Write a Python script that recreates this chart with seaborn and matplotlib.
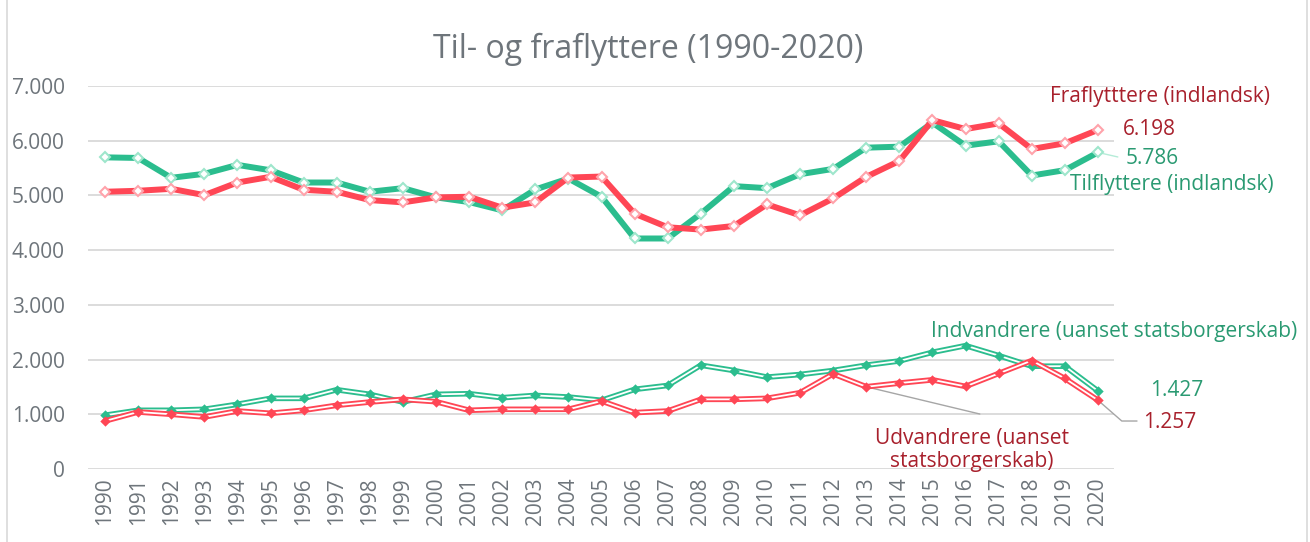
import matplotlib
matplotlib.use("Agg")
import matplotlib.pyplot as plt
import seaborn as sns
import pandas as pd
import numpy as np

years = list(range(1990, 2021))
fraflyttere = [5067, 5085, 5121, 5005, 5236, 5340, 5103, 5067, 4915, 4873, 4964, 4976,
               4776, 4873, 5327, 5345, 4667, 4418, 4376, 4442, 4836, 4636, 4945, 5340,
               5630, 6376, 6213, 6316, 5849, 5953, 6198]
tilflyttere = [5696, 5685, 5322, 5395, 5558, 5460, 5236, 5236, 5067, 5133, 4964, 4879,
               4727, 5109, 5309, 4976, 4213, 4213, 4667, 5170, 5133, 5388, 5485, 5873,
               5891, 6330, 5909, 5989, 5364, 5462, 5786]
indvandrere = [982, 1073, 1073, 1091, 1182, 1291, 1291, 1449, 1364, 1224, 1364, 1376,
               1303, 1345, 1315, 1255, 1455, 1527, 1897, 1800, 1679, 1727, 1800, 1897,
               1975, 2133, 2255, 2073, 1879, 1879, 1427]
udvandrere = [878, 1042, 1000, 951, 1060, 1018, 1073, 1164, 1224, 1273, 1230, 1073,
              1091, 1091, 1091, 1242, 1030, 1060, 1273, 1273, 1291, 1394, 1739, 1503,
              1570, 1630, 1509, 1746, 1982, 1655, 1257]
ytick_vals = [0, 1000, 2000, 3000, 4000, 5000, 6000, 7000]
ytick_labels = ["0", "1.000", "2.000", "3.000", "4.000", "5.000", "6.000", "7.000"]
title = "Til- og fraflyttere (1990-2020)"

GREEN = "#2bbd8e"
RED = "#ff4655"
GREEN_TXT = "#2a9a72"
RED_TXT = "#a8202c"
GRAY_TXT = "#6e757b"
FONT = "Open Sans"

sns.set_theme(style="white")
plt.rcParams["font.family"] = [FONT, "DejaVu Sans"]

df = pd.DataFrame({"year": years, "fra": fraflyttere, "til": tilflyttere,
                   "ind": indvandrere, "ud": udvandrere})

fig = plt.figure(figsize=(13.1, 5.42), dpi=100)
ax = fig.add_axes([88.5 / 1310, 1 - 469 / 542, (1114.5 - 88.5) / 1310, (469 - 86) / 542])

# top series: thick lines with pale hollow diamonds
sns.lineplot(data=df, x="year", y="til", ax=ax, color=GREEN, lw=4.3, zorder=3,
             marker="D", markersize=4.8, markerfacecolor="white",
             markeredgecolor="#9ee6cc", markeredgewidth=1.5)
sns.lineplot(data=df, x="year", y="fra", ax=ax, color=RED, lw=4.3, zorder=4,
             marker="D", markersize=4.8, markerfacecolor="white",
             markeredgecolor="#ffa3ab", markeredgewidth=1.5)

# bottom series: double (compound) lines with filled diamonds
for col, c, z in [("ind", GREEN, 5), ("ud", RED, 7)]:
    sns.lineplot(data=df, x="year", y=col, ax=ax, color=c, lw=4.0, zorder=z)
    sns.lineplot(data=df, x="year", y=col, ax=ax, color="white", lw=1.3, zorder=z + 0.1)
    sns.scatterplot(data=df, x="year", y=col, ax=ax, color=c, marker="D", s=28,
                    linewidth=0, zorder=z + 0.2)

ax.set_xlim(1989.5, 2020.5)
ax.set_ylim(0, 7000)
ax.set_yticks(ytick_vals)
ax.set_yticklabels(ytick_labels)
ax.set_xticks(years)
ax.set_xticklabels([str(y) for y in years], rotation=90)
ax.grid(axis="y", color="#d9d9d9", lw=1.3, zorder=0)
ax.set_axisbelow(True)
for s in ax.spines.values():
    s.set_visible(False)
ax.tick_params(axis="y", length=0, pad=17, labelsize=15, labelcolor=GRAY_TXT)
ax.tick_params(axis="x", length=0, pad=6, labelsize=15, labelcolor=GRAY_TXT)
ax.set_xlabel("")
ax.set_ylabel("")

fig.text(0.495, 0.908, title, ha="center", va="center", fontsize=23, color=GRAY_TXT)

# leader lines
ax.plot([2013, 2016.43], [1503, 1005], color="#a6a6a6", lw=1.0, zorder=2, clip_on=False)
ax.plot([2020, 2020.72, 2021.18], [1257, 877, 877], color="#a6a6a6", lw=1.0, zorder=2,
        clip_on=False)
ax.plot([2020, 2020.6], [5786, 5703], color="#b5ecd8", lw=1.0, zorder=2, clip_on=False)

kw = dict(fontsize=15, clip_on=False)
ax.text(2021.87, 6799, "Fraflytttere (indlandsk)", ha="center", va="center", color=RED_TXT, **kw)
ax.text(2020.75, 6196, "6.198", ha="left", va="center", color=RED_TXT, **kw)
ax.text(2020.85, 5684, "5.786", ha="left", va="center", color=GREEN_TXT, **kw)
ax.text(2022.24, 5191, "Tilflyttere (indlandsk)", ha="center", va="center", color=GREEN_TXT, **kw)
ax.text(2020.48, 2522, "Indvandrere (uanset statsborgerskab)", ha="center", va="center",
        color=GREEN_TXT, **kw)
ax.text(2021.57, 1426, "1.427", ha="left", va="center", color=GREEN_TXT, **kw)
ax.text(2021.36, 859, "1.257", ha="left", va="center", color=RED_TXT, **kw)
ax.text(2016.19, 347, "Udvandrere (uanset\nstatsborgerskab)", ha="center", va="center",
        color=RED_TXT, linespacing=1.15, **kw)

# chart border
fig.add_artist(plt.Line2D([7 / 1310, 7 / 1310], [0, 1], color="#d9d9d9", lw=1.2))
fig.add_artist(plt.Line2D([1307 / 1310, 1307 / 1310], [0, 1], color="#d9d9d9", lw=1.2))

fig.savefig("out.png", dpi=100)
